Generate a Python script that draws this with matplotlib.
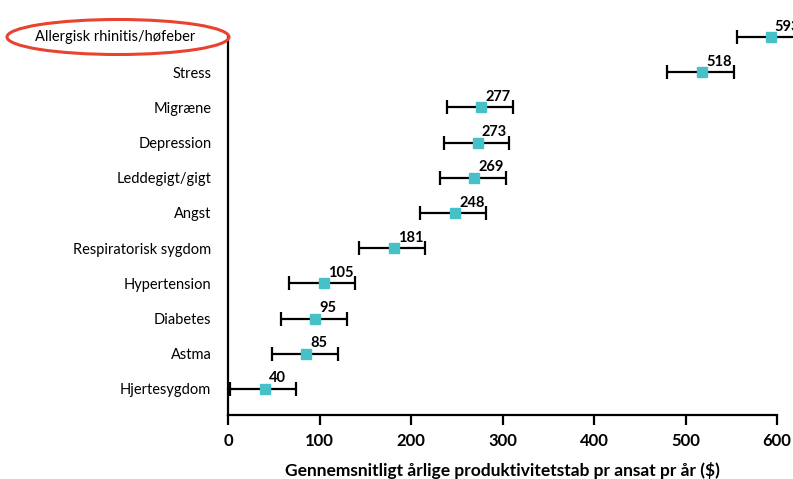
import matplotlib
matplotlib.use("Agg")
import matplotlib.pyplot as plt
from matplotlib.patches import Ellipse

categories = ["Allergisk rhinitis/høfeber", "Stress", "Migræne", "Depression",
              "Leddegigt/gigt", "Angst", "Respiratorisk sygdom", "Hypertension",
              "Diabetes", "Astma", "Hjertesygdom"]
values = [593, 518, 277, 273, 269, 248, 181, 105, 95, 85, 40]
lower = [556, 480, 239, 236, 232, 210, 143, 67, 58, 48, 2]
upper = [632, 553, 311, 307, 304, 282, 215, 139, 130, 120, 74]
xticks = [0, 100, 200, 300, 400, 500, 600]
xlabel = "Gennemsnitligt årlige produktivitetstab pr ansat pr år ($)"

plt.rcParams['font.family'] = ['Lato', 'DejaVu Sans']

W, H = 793, 479
fig = plt.figure(figsize=(W / 100, H / 100), dpi=100)
ax = fig.add_axes([228 / W, (H - 415) / H, 549 / W, 378 / H])

n = len(categories)
ypos = [n - 1 - i for i in range(n)]
xerr = [[v - lo for v, lo in zip(values, lower)], [up - v for v, up in zip(values, upper)]]

eb = ax.errorbar(values, ypos, xerr=xerr, fmt='s', color='#47c1c8', markersize=7.8,
                 ecolor='black', elinewidth=1.6, capsize=5, capthick=1.6, zorder=3,
                 clip_on=False)
for coll in eb.lines[2]:
    coll.set_clip_on(False)
for cap in eb.lines[1]:
    cap.set_clip_on(False)

for v, y in zip(values, ypos):
    ax.annotate(str(v), (v, y), xytext=(3, 2.5), textcoords='offset points',
                ha='left', va='bottom', fontsize=10.5, fontweight='bold',
                annotation_clip=False)

ax.set_xlim(0, 600)
ax.set_ylim(-0.74, n - 1)
ax.set_yticks(ypos)
ax.set_yticklabels([""] + categories[1:], fontsize=10.5)
ax.tick_params(axis='y', length=0, pad=12)
ax.set_xticks(xticks)
ax.set_xticklabels([str(t) for t in xticks], fontsize=12, fontweight='bold')
ax.tick_params(axis='x', length=7, width=1.6, pad=6)
ax.set_xlabel(xlabel, fontsize=12.5, fontweight='bold', labelpad=9)
for s in ['top', 'right']:
    ax.spines[s].set_visible(False)
for s in ['left', 'bottom']:
    ax.spines[s].set_linewidth(1.6)

# highlighted first category, centred in a red ellipse
fig.text(115 / W, 1 - 37 / H, categories[0], ha='center', va='center', fontsize=10.5)
ell = Ellipse((118 / W, 1 - 37 / H), 222 / W, 35 / H, transform=fig.transFigure,
              fill=False, edgecolor='#e8432f', linewidth=2.2)
fig.add_artist(ell)

fig.savefig("out.png", dpi=100)
